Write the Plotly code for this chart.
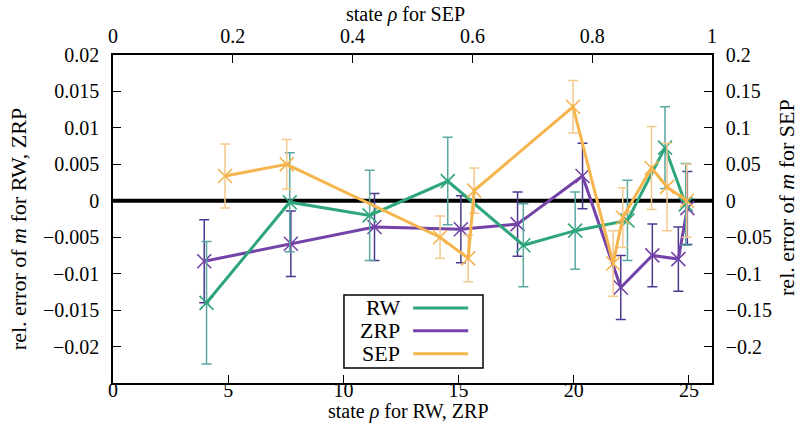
import plotly.graph_objects as go

# RW and ZRP: state rho on the bottom axis, relative error of m on the left axis
rw_x = [4.06, 7.67, 11.14, 14.53, 17.81, 20.06, 22.33, 23.96, 24.86]
rw_y = [-0.0140, -0.0002, -0.0020, 0.0027, -0.0061, -0.0041, -0.0027, 0.0073, -0.0005]
rw_err = [0.0084, 0.0068, 0.0062, 0.0060, 0.0057, 0.0053, 0.0055, 0.0056, 0.0056]

zrp_x = [3.96, 7.72, 11.35, 15.10, 17.56, 20.38, 22.04, 23.41, 24.54, 24.93]
zrp_y = [-0.0083, -0.0059, -0.0036, -0.0039, -0.0032, 0.0034, -0.0119, -0.0075, -0.0080, -0.0010]
zrp_err = [0.0057, 0.0045, 0.0046, 0.0046, 0.0044, 0.0045, 0.0044, 0.0043, 0.0044, 0.0050]

# SEP: state rho on the top axis, relative error of m on the right axis
sep_x = [0.187, 0.290, 0.546, 0.593, 0.603, 0.768, 0.835, 0.851, 0.899, 0.925, 0.958]
sep_y = [0.034, 0.050, -0.050, -0.079, 0.014, 0.129, -0.086, -0.023, 0.045, 0.019, 0.0]
sep_err = [0.044, 0.034, 0.029, 0.032, 0.031, 0.036, 0.045, 0.041, 0.057, 0.060, 0.050]

x_ticks = [0, 5, 10, 15, 20, 25]
x2_ticks = [0, 0.2, 0.4, 0.6, 0.8, 1]
y_ticks = [0.02, 0.015, 0.01, 0.005, 0, -0.005, -0.01, -0.015, -0.02]
y2_ticks = [0.2, 0.15, 0.1, 0.05, 0, -0.05, -0.1, -0.15, -0.2]

series_names = ["RW", "ZRP", "SEP"]
line_colors = ["#2ea67a", "#7443a8", "#f5b54e"]
bar_colors = ["#5aa8a2", "#4d3a90", "#f3c98e"]

FONT = "Liberation Serif"
TICK_SIZE = 20
TITLE_SIZE = 20


def fmt(v):
    return ("%g" % v).replace("-", "\u2212")


fig = go.Figure()


def add_series(x, y, err, i, xa, ya):
    fig.add_trace(go.Scatter(
        x=x, y=y, xaxis=xa, yaxis=ya, name=series_names[i],
        mode="lines+markers",
        line=dict(color=line_colors[i], width=3),
        marker=dict(symbol="x-thin", size=14,
                    line=dict(color=line_colors[i], width=1.6)),
        error_y=dict(type="data", array=err, visible=True,
                     color=bar_colors[i], thickness=1.5, width=5),
        showlegend=False,
    ))


add_series(sep_x, sep_y, sep_err, 2, "x2", "y2")
add_series(zrp_x, zrp_y, zrp_err, 1, "x", "y")
add_series(rw_x, rw_y, rw_err, 0, "x", "y")

# zero reference line
fig.add_shape(type="line", xref="paper", yref="y", x0=0, x1=1, y0=0, y1=0,
              line=dict(color="black", width=4), layer="below")

# key box: name on the left, line sample on the right
box_x0, box_x1, box_y0, box_y1 = 0.3856, 0.6177, 0.0457, 0.268
fig.add_shape(type="rect", xref="paper", yref="paper",
              x0=box_x0, x1=box_x1, y0=box_y0, y1=box_y1,
              line=dict(color="black", width=1.5), fillcolor="white")
key_rows = [0.229, 0.159, 0.089]
for i, ky in enumerate(key_rows):
    fig.add_annotation(xref="paper", yref="paper", x=0.4817, y=ky,
                       text=series_names[i], showarrow=False,
                       xanchor="right", yanchor="middle",
                       font=dict(family=FONT, size=22, color="black"))
    fig.add_shape(type="line", xref="paper", yref="paper",
                  x0=0.501, x1=0.593, y0=ky, y1=ky,
                  line=dict(color=line_colors[i], width=3))

# axis titles
titles = [
    dict(text="state <i>ρ</i> for RW, ZRP", x=0.4925, y=-0.128,
         textangle=0, yanchor="bottom", size=TITLE_SIZE),
    dict(text="state <i>ρ</i> for SEP", x=0.489, y=1.166,
         textangle=0, yanchor="top", size=TITLE_SIZE),
    dict(text="rel. error of <i>m</i> for RW, ZRP", x=-0.158, y=0.47,
         textangle=-90, yanchor="middle", size=22),
    dict(text="rel. error of <i>m</i> for SEP", x=1.124, y=0.565,
         textangle=-90, yanchor="middle", size=22),
]
for t in titles:
    size = t.pop("size")
    fig.add_annotation(xref="paper", yref="paper", showarrow=False,
                       xanchor="center",
                       font=dict(family=FONT, size=size, color="black"), **t)

axis_common = dict(
    showline=True, linecolor="black", linewidth=1.5, mirror=False,
    ticks="inside", ticklen=8, tickcolor="black", tickwidth=1.3,
    showgrid=False, zeroline=False, automargin=False,
    tickfont=dict(family=FONT, size=TICK_SIZE, color="black"),
)

fig.update_layout(
    width=801, height=425,
    margin=dict(l=113, r=89, t=55, b=42),
    paper_bgcolor="white", plot_bgcolor="white",
    font=dict(family=FONT, size=TICK_SIZE, color="black"),
    xaxis=dict(range=[0, 26], tickvals=x_ticks, ticktext=[str(v) for v in x_ticks],
               ticklabelstandoff=-12, **axis_common),
    xaxis2=dict(range=[0, 1], overlaying="x", side="top", anchor="y",
                tickvals=x2_ticks, ticktext=["0", "0.2", "0.4", "0.6", "0.8", "1"],
                ticklabelstandoff=2, **axis_common),
    yaxis=dict(range=[-0.025, 0.02], tickvals=y_ticks,
               ticktext=[fmt(v) for v in y_ticks],
               ticklabelstandoff=8, **axis_common),
    yaxis2=dict(range=[-0.25, 0.2], overlaying="y", side="right", anchor="x",
                tickvals=y2_ticks, ticktext=[fmt(v) for v in y2_ticks],
                ticklabelstandoff=8, **axis_common),
)

fig.write_html("out.html")
